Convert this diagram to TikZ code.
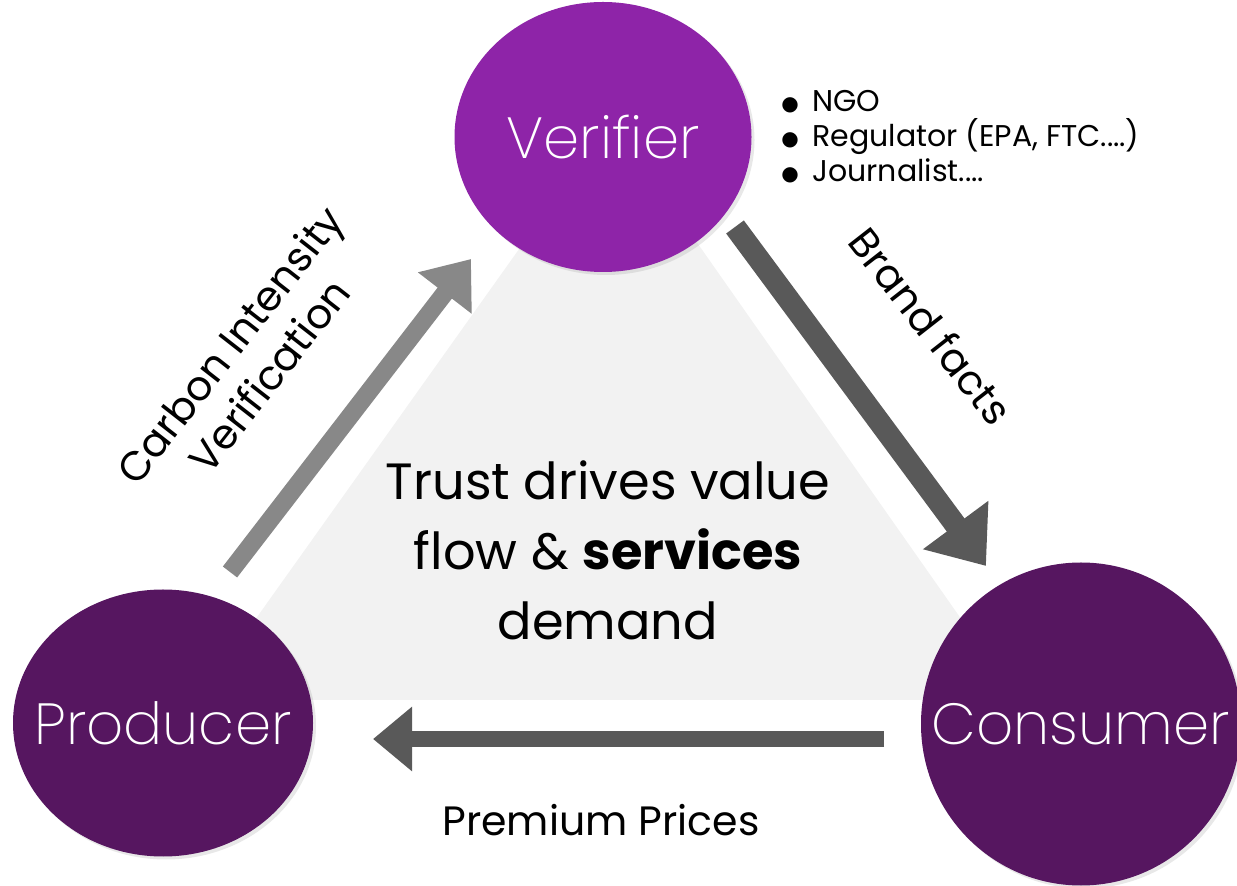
\documentclass[tikz,border=0pt]{standalone}
\usepackage{fontspec}
\setmainfont{Poppins}
\newfontfamily\thinfont{Poppins ExtraLight}
\newfontfamily\symfont{DejaVu Sans}
\usetikzlibrary{arrows.meta}
\usetikzlibrary{shapes.geometric}
\usetikzlibrary{shadows}
\definecolor{verifierpurple}{RGB}{142,36,168}
\definecolor{marketpurple}{RGB}{86,22,96}
\definecolor{paleback}{RGB}{242,242,242}
\definecolor{flowlight}{RGB}{136,136,136}
\definecolor{flowdark}{RGB}{89,89,89}
\newcommand{\rolebullet}{\makebox[15.5pt][l]{\raisebox{0.5pt}{\symfont\fontsize{10}{10}\selectfont ●}}}

\begin{document}
\begin{tikzpicture}[x=0.5pt, y=-0.5pt,
    party/.style={ellipse, inner sep=0pt, text=white,
        font=\thinfont\fontsize{29}{36}\selectfont,
        drop shadow={opacity=0.18, shadow xshift=1.5pt, shadow yshift=-1.5pt}},
    flowtext/.style={inner sep=0pt, font=\fontsize{20.5}{25}\selectfont},
    flowarrow/.style={line width=#1}]
    \useasboundingbox (0, 0) rectangle (1237, 886);
    \fill[paleback] (611, 120) -- (198, 700) -- (1018, 700) -- cycle;

    \node[party, fill=verifierpurple, minimum width=148.5pt, minimum height=135pt] (verifier) at (603, 137) {\makebox[0pt]{Verifier}};
    \node[party, fill=marketpurple, minimum width=150pt, minimum height=133.5pt] (producer) at (163, 723) {\makebox[0pt]{Producer}};
    \node[party, fill=marketpurple, minimum width=160pt, minimum height=161.5pt] (consumer) at (1081, 724) {\makebox[0pt]{Consumer}};

    \node[anchor=west, inner sep=0pt, align=left, font=\fontsize{15}{17.5}\selectfont] (roles) at (781, 137)
        {\rolebullet NGO\\ \rolebullet Regulator (EPA, FTC....)\\ \rolebullet Journalist....};

    \coordinate (up-tail) at (230, 572);
    \coordinate (up-tip) at (471, 259);
    \coordinate (down-tail) at (735, 227);
    \coordinate (down-tip) at (986, 566);
    \coordinate (back-tail) at (884, 739);
    \coordinate (back-tip) at (373, 739);
    \draw[flowarrow=9pt, flowlight, -{Triangle[length=21.5pt, width=32.5pt]}] (up-tail) -- (up-tip);
    \draw[flowarrow=11pt, flowdark, -{Triangle[length=25.5pt, width=39pt]}] (down-tail) -- (down-tip);
    \draw[flowarrow=8pt, flowdark, -{Triangle[length=19.5pt, width=31pt]}] (back-tail) -- (back-tip);

    \node[flowtext, rotate=52, align=center] (carbon) at (249, 360) {Carbon Intensity\\Verification};
    \node[flowtext, rotate=-52] (brand) at (931, 326) {Brand facts};
    \node[flowtext] (premium) at (601, 820) {Premium Prices};

    \node[inner sep=0pt, align=center, font=\fontsize{25.5}{35}\selectfont] (trust) at (608, 550)
        {Trust drives value\\flow \& \textbf{services}\\demand};
\end{tikzpicture}
\end{document}
